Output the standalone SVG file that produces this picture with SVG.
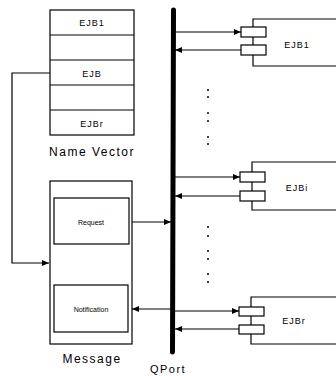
<svg xmlns="http://www.w3.org/2000/svg" width="336" height="376" viewBox="0 0 336 376">
<defs>
<style>
.ln{stroke:#000;stroke-width:1.2;fill:none}
.bx{stroke:#000;stroke-width:1.2;fill:#fff}
.t{font-family:"Liberation Sans",Arial,sans-serif;fill:#000;text-anchor:middle}
.s9{font-size:9px;letter-spacing:1px}
.s12{font-size:12px;letter-spacing:1.5px}
.s7{font-size:7px}
.dot{fill:#000}
</style>
<marker id="ah" markerWidth="8" markerHeight="6" refX="7" refY="3" orient="auto" markerUnits="userSpaceOnUse">
<path d="M0,0 L7,3 L0,6 Z" fill="#000"/>
</marker>
</defs>

<g id="bus">
<line x1="173.5" y1="10" x2="172.5" y2="352" stroke="#000" stroke-width="5" stroke-linecap="round"/>
<text class="t s12" x="168" y="373" style="font-size:11px">QPort</text>
</g>

<g id="name-vector">
<rect class="bx" x="50" y="10" width="84" height="125"/>
<line class="ln" x1="50" y1="35" x2="134" y2="35"/>
<line class="ln" x1="50" y1="60" x2="134" y2="60"/>
<line class="ln" x1="50" y1="85" x2="134" y2="85"/>
<line class="ln" x1="50" y1="110" x2="134" y2="110"/>
<text class="t s9" x="92" y="25.5">EJB1</text>
<text class="t s9" x="92" y="76.5">EJB</text>
<text class="t s9" x="92" y="126.5">EJBr</text>
<text class="t s12" x="92" y="156">Name Vector</text>
</g>

<g id="message">
<rect class="bx" x="50" y="181" width="82" height="163"/>
<rect class="bx" x="54" y="198" width="75" height="46"/>
<rect class="bx" x="54" y="285" width="74" height="47"/>
<text class="t s7" x="91" y="224.5">Request</text>
<text class="t s7" x="91" y="311.5">Notification</text>
<text class="t s12" x="92" y="363">Message</text>
</g>

<g id="ejb1">
<path class="ln" d="M336,19 H253 V27 M253,37 V45 M253,55 V66 H336"/>
<rect class="bx" x="241" y="27" width="25" height="10"/>
<rect class="bx" x="241" y="45" width="25" height="10"/>
<text class="t s9" x="297" y="48">EJB1</text>
</g>

<g id="ejbi">
<path class="ln" d="M336,162 H252 V172 M252,182 V191 M252,201 V210 H336"/>
<rect class="bx" x="240" y="172" width="25" height="10"/>
<rect class="bx" x="240" y="191" width="25" height="10"/>
<text class="t s9" x="297" y="191">EJBi</text>
</g>

<g id="ejbr">
<path class="ln" d="M336,297 H251 V307 M251,316 V325 M251,334 V344 H336"/>
<rect class="bx" x="239" y="307" width="25" height="9"/>
<rect class="bx" x="239" y="325" width="25" height="9"/>
<text class="t s9" x="294" y="324">EJBr</text>
</g>

<g id="dots">
<circle class="dot" cx="208" cy="90" r="1"/>
<circle class="dot" cx="208" cy="97" r="1"/>
<circle class="dot" cx="208" cy="113" r="1"/>
<circle class="dot" cx="208" cy="121" r="1"/>
<circle class="dot" cx="208" cy="137" r="1"/>
<circle class="dot" cx="208" cy="144" r="1"/>
<circle class="dot" cx="208" cy="227" r="1"/>
<circle class="dot" cx="208" cy="236" r="1"/>
<circle class="dot" cx="208" cy="251" r="1"/>
<circle class="dot" cx="208" cy="259" r="1"/>
<circle class="dot" cx="208" cy="274" r="1"/>
<circle class="dot" cx="208" cy="282" r="1"/>
</g>

<g id="connectors">
<path class="ln" d="M50,73 H12 V263 H49" marker-end="url(#ah)"/>
<line class="ln" x1="132" y1="222" x2="171" y2="222" marker-end="url(#ah)"/>
<line class="ln" x1="171" y1="309" x2="132" y2="309" marker-end="url(#ah)"/>
<line class="ln" x1="175" y1="32" x2="241" y2="32" marker-end="url(#ah)"/>
<line class="ln" x1="241" y1="50" x2="175" y2="50" marker-end="url(#ah)"/>
<line class="ln" x1="175" y1="177" x2="240" y2="177" marker-end="url(#ah)"/>
<line class="ln" x1="240" y1="196" x2="175" y2="196" marker-end="url(#ah)"/>
<line class="ln" x1="175" y1="311" x2="239" y2="311" marker-end="url(#ah)"/>
<line class="ln" x1="239" y1="329" x2="175" y2="329" marker-end="url(#ah)"/>
</g>
</svg>
